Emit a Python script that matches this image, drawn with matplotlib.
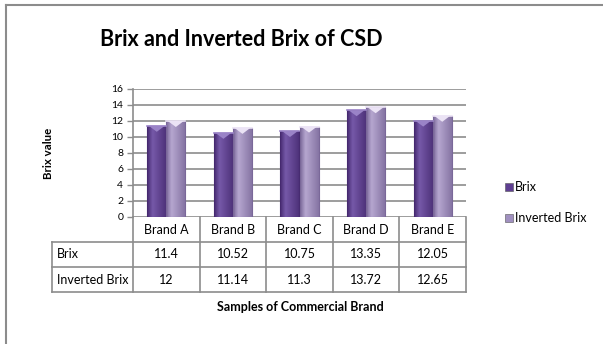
import numpy as np
import matplotlib
matplotlib.use('Agg')
import matplotlib.pyplot as plt
from matplotlib.patches import Rectangle, Polygon
from matplotlib.lines import Line2D

# data
brands = ['Brand A', 'Brand B', 'Brand C', 'Brand D', 'Brand E']
brix = [11.4, 10.52, 10.75, 13.35, 12.05]
inverted_brix = [12, 11.14, 11.3, 13.72, 12.65]
row_labels = ['Brix', 'Inverted Brix']
yticks = [0, 2, 4, 6, 8, 10, 12, 14, 16]

plt.rcParams['font.family'] = ['Lato', 'DejaVu Sans']

W, H = 603, 344
fig = plt.figure(figsize=(W / 100, H / 100), dpi=100)
fig.patch.set_facecolor('white')

def fx(px):
    return px / W

def fy(py):
    return 1 - py / H

grey = '#8c8c8c'

# outer chart frame (only left and top visible in the reference)
fig.add_artist(Line2D([fx(6), fx(6)], [fy(5), fy(H + 5)], color=grey, lw=1.5, transform=fig.transFigure))
fig.add_artist(Line2D([fx(6), fx(W + 5)], [fy(5), fy(5)], color=grey, lw=1.5, transform=fig.transFigure))

# plot area
x0, x1, ytop, ybot = 133, 466, 89, 217
ax = fig.add_axes([fx(x0), fy(ybot), fx(x1 - x0), (ybot - ytop) / H])
ax.set_xlim(-0.5, len(brands) - 0.5)
ax.set_ylim(0, 16)
ax.set_yticks(yticks)
ax.set_yticklabels([str(t) for t in yticks], fontsize=7.5)
ax.set_xticks([])
for s in ['top', 'right', 'bottom']:
    ax.spines[s].set_visible(False)
ax.spines['left'].set_color(grey)
ax.spines['left'].set_linewidth(1.2)
ax.tick_params(axis='y', length=4, width=1, color=grey, pad=3)
for t in yticks:
    ax.axhline(t, color=grey, lw=1.2, zorder=1)

w = 0.285
series = [
    (brix, -0.143, ('#45296f', '#7558a8', '#9a83c7')),
    (inverted_brix, 0.143, ('#7a6899', '#b5a6cf', '#ebe3f5')),
]
grad = np.concatenate([np.linspace(0, 1, 30), np.linspace(1, 0.2, 70)])
for vals, off, (dark, light, cap) in series:
    cmap = matplotlib.colors.LinearSegmentedColormap.from_list('c', [dark, light])
    for i, v in enumerate(vals):
        left = i + off - w / 2
        rect = Rectangle((left, 0), w, v, facecolor='none', edgecolor=dark, lw=0.8, zorder=3)
        ax.add_patch(rect)
        im = ax.imshow(grad[np.newaxis, :], extent=(left, left + w, 0, v), aspect='auto',
                       cmap=cmap, zorder=2, interpolation='bilinear')
        im.set_clip_path(rect)
        tri = Polygon([(left + w * 0.08, v), (left + w * 0.92, v), (left + w * 0.5, v - 0.75)],
                      closed=True, facecolor=cap, edgecolor='none', zorder=4)
        ax.add_patch(tri)
        ax.plot([left, left + w], [v, v], color=cap, lw=1.2, zorder=4)

fig.text(fx(49), fy(153), 'Brix value', rotation=90, ha='center', va='center',
         fontsize=8.3, fontweight='bold')

# data table under the axis
col_w = (x1 - x0) / len(brands)
row_y = [217, 242, 267, 292]
tl = dict(color=grey, lw=1.2, transform=fig.transFigure)
for k in range(len(brands) + 1):
    xx = x0 + k * col_w
    fig.add_artist(Line2D([fx(xx), fx(xx)], [fy(row_y[0]), fy(row_y[3])], **tl))
fig.add_artist(Line2D([fx(52), fx(52)], [fy(row_y[1]), fy(row_y[3])], **tl))
for r in range(1, 4):
    fig.add_artist(Line2D([fx(52), fx(x1)], [fy(row_y[r]), fy(row_y[r])], **tl))

for k, b in enumerate(brands):
    cx = x0 + (k + 0.5) * col_w
    fig.text(fx(cx), fy((row_y[0] + row_y[1]) / 2), b, ha='center', va='center', fontsize=9)
    fig.text(fx(cx), fy((row_y[1] + row_y[2]) / 2), str(brix[k]), ha='center', va='center', fontsize=9)
    fig.text(fx(cx), fy((row_y[2] + row_y[3]) / 2), str(inverted_brix[k]), ha='center', va='center', fontsize=9)
for r, lab in enumerate(row_labels):
    fig.text(fx(57), fy((row_y[r + 1] + row_y[r + 2]) / 2), lab, ha='left', va='center', fontsize=9)

fig.text(fx(300), fy(307), 'Samples of Commercial Brand', ha='center', va='center',
         fontsize=9, fontweight='bold')
fig.text(fx(241), fy(40), 'Brix and Inverted Brix of CSD', ha='center', va='center',
         fontsize=15.5, fontweight='bold')

# legend
leg_items = [('Brix', '#5f3f92', 187), ('Inverted Brix', '#a090c0', 218)]
for lab, col, yy in leg_items:
    fig.add_artist(Rectangle((fx(505), fy(yy + 4)), fx(8), 8 / H, facecolor=col,
                             edgecolor='#555555', lw=0.4, transform=fig.transFigure))
    fig.text(fx(515), fy(yy), lab, ha='left', va='center', fontsize=9)

fig.savefig('out.png', dpi=100)
